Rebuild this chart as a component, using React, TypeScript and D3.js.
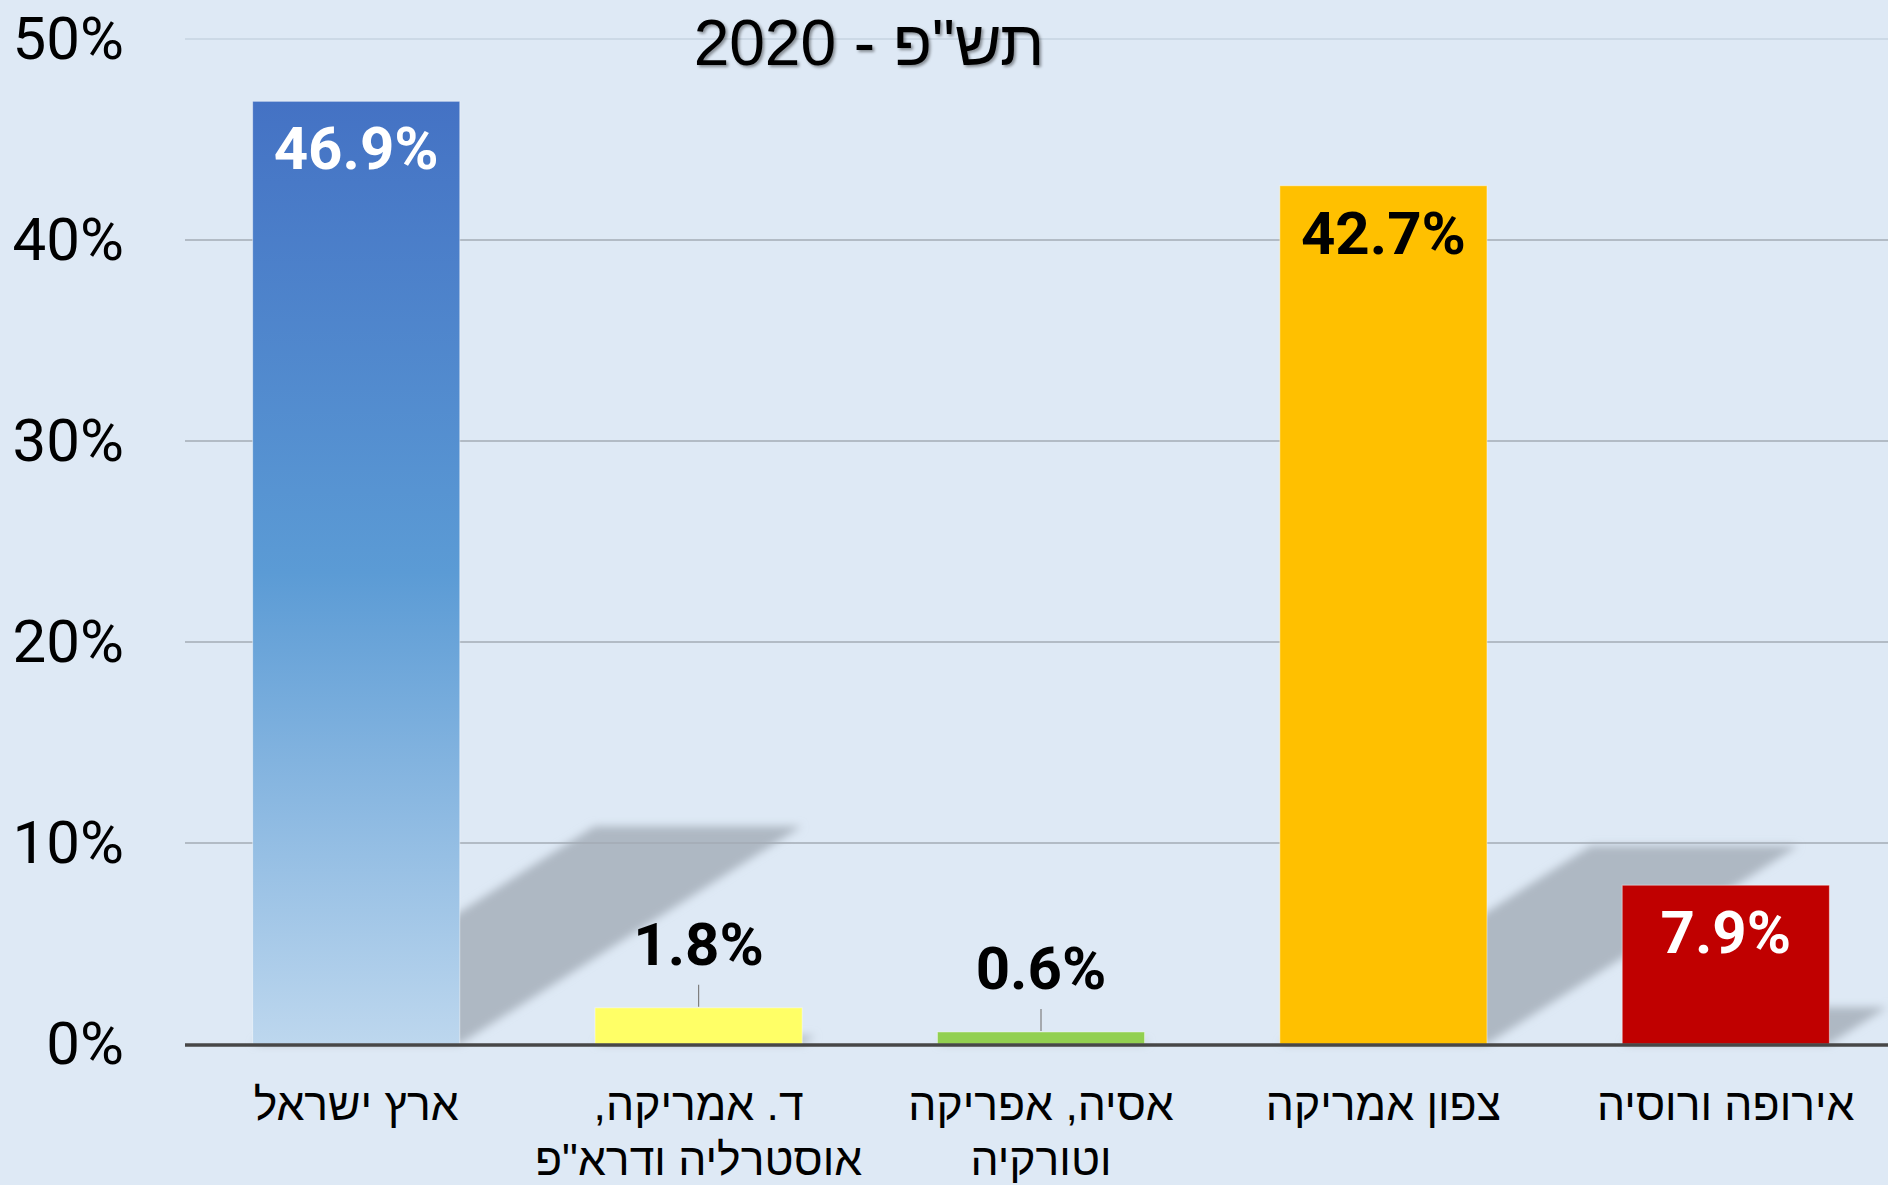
import React from "react";
import * as d3 from "d3";

const categories = [
  "ארץ ישראל",
  "ד. אמריקה,\nאוסטרליה ודרא\"פ",
  "אסיה, אפריקה\nוטורקיה",
  "צפון אמריקה",
  "אירופה ורוסיה",
];
const values = [46.9, 1.8, 0.6, 42.7, 7.9];
const barColors = ["url(#blueGrad)", "#FFFF66", "#92D050", "#FFC000", "#C00000"];
const labelInside = [true, false, false, true, true];
const labelColors = ["#FFFFFF", "#000000", "#000000", "#000000", "#FFFFFF"];
const yTicks = [0, 10, 20, 30, 40, 50];
const title = "תש\"פ - 2020";

const W = 1888;
const H = 1185;

export default function App() {
  React.useEffect(() => {
    document.body.style.margin = "0";
  }, []);

  const y = d3.scaleLinear().domain([0, 50]).range([1044, 39]);
  const x = d3
    .scaleBand<string>()
    .domain(categories)
    .range([185, 1897])
    .paddingInner(0.395)
    .paddingOuter(0.1975);

  const base = y(0);
  const shadowRatio = 0.231;
  const shear = 1.57;
  const fontNum = "Roboto, 'Liberation Sans', sans-serif";
  const fontHeb = "'Liberation Sans', 'DejaVu Sans', sans-serif";

  return (
    <svg width={W} height={H} style={{ display: "block" }}>
      <defs>
        <linearGradient id="blueGrad" x1="0" y1="0" x2="0" y2="1">
          <stop offset="0" stopColor="#4472C4" />
          <stop offset="0.5" stopColor="#5B9BD5" />
          <stop offset="1" stopColor="#BDD7EE" />
        </linearGradient>
        <filter id="shBlur" x="-20%" y="-20%" width="140%" height="140%">
          <feGaussianBlur stdDeviation="4" />
        </filter>
        <filter id="titleShadow" x="-10%" y="-20%" width="120%" height="150%">
          <feDropShadow dx="2" dy="2" stdDeviation="1.5" floodColor="#000" floodOpacity="0.4" />
        </filter>
      </defs>
      <rect x={0} y={0} width={W} height={H} fill="#DEE9F5" />

      {/* shadows */}
      <g filter="url(#shBlur)">
        {categories.map((c, i) => {
          const x0 = x(c)!;
          const x1 = x0 + x.bandwidth();
          const h = (base - y(values[i])) * shadowRatio;
          const dx = h * shear;
          const pts = [
            [x0, base],
            [x1, base],
            [x1 + dx, base - h],
            [x0 + dx, base - h],
          ];
          return <polygon key={c} points={pts.map((p) => p.join(",")).join(" ")} fill="#AEB8C3" />;
        })}
      </g>

      {/* gridlines */}
      {yTicks.slice(1).map((t) => (
        <line
          key={t}
          x1={185}
          x2={W}
          y1={y(t)}
          y2={y(t)}
          stroke={t === 50 ? "#C6D3E0" : "#A3ABB4"}
          strokeWidth={1.5}
        />
      ))}

      {/* bars */}
      {categories.map((c, i) => (
        <rect
          key={c}
          x={x(c)!}
          y={y(values[i])}
          width={x.bandwidth()}
          height={base - y(values[i])}
          fill={barColors[i]}
          stroke="#FFFFFF"
          strokeOpacity={0.45}
          strokeWidth={1}
        />
      ))}

      {/* baseline */}
      <line x1={185} x2={W} y1={base + 1} y2={base + 1} stroke="#474747" strokeWidth={3.5} />

      {/* y tick labels */}
      {yTicks.map((t) => (
        <text
          key={t}
          x={124}
          y={y(t) + 20}
          textAnchor="end"
          fontFamily={fontNum}
          fontSize={60}
          fill="#000"
        >
          {t}%
        </text>
      ))}

      {/* data labels */}
      {categories.map((c, i) => {
        const cx = x(c)! + x.bandwidth() / 2;
        const top = y(values[i]);
        if (labelInside[i]) {
          return (
            <text
              key={c}
              x={cx}
              y={top + 68}
              textAnchor="middle"
              fontFamily={fontNum}
              fontWeight={700}
              fontSize={60}
              fill={labelColors[i]}
            >
              {values[i].toFixed(1)}%
            </text>
          );
        }
        const by = top - 43;
        return (
          <g key={c}>
            <line x1={cx} x2={cx} y1={by + 20} y2={top - 1} stroke="#7F7F7F" strokeWidth={1.2} />
            <text
              x={cx}
              y={by}
              textAnchor="middle"
              fontFamily={fontNum}
              fontWeight={700}
              fontSize={60}
              fill={labelColors[i]}
            >
              {values[i].toFixed(1)}%
            </text>
          </g>
        );
      })}

      {/* category labels */}
      {categories.map((c) => {
        const cx = x(c)! + x.bandwidth() / 2;
        const lines = c.split("\n");
        return (
          <text
            key={c}
            textAnchor="middle"
            fontFamily={fontHeb}
            fontSize={44.5}
            fill="#000"
            style={{ direction: "rtl", unicodeBidi: "embed" }}
          >
            {lines.map((l, k) => (
              <tspan key={k} x={cx} y={1120 + k * 55}>
                {l}
              </tspan>
            ))}
          </text>
        );
      })}

      {/* title */}
      <text
        x={869}
        y={65}
        textAnchor="middle"
        fontFamily={fontHeb}
        fontSize={64}
        fill="#000"
        filter="url(#titleShadow)"
        style={{ direction: "rtl", unicodeBidi: "embed" }}
      >
        {title}
      </text>
    </svg>
  );
}
